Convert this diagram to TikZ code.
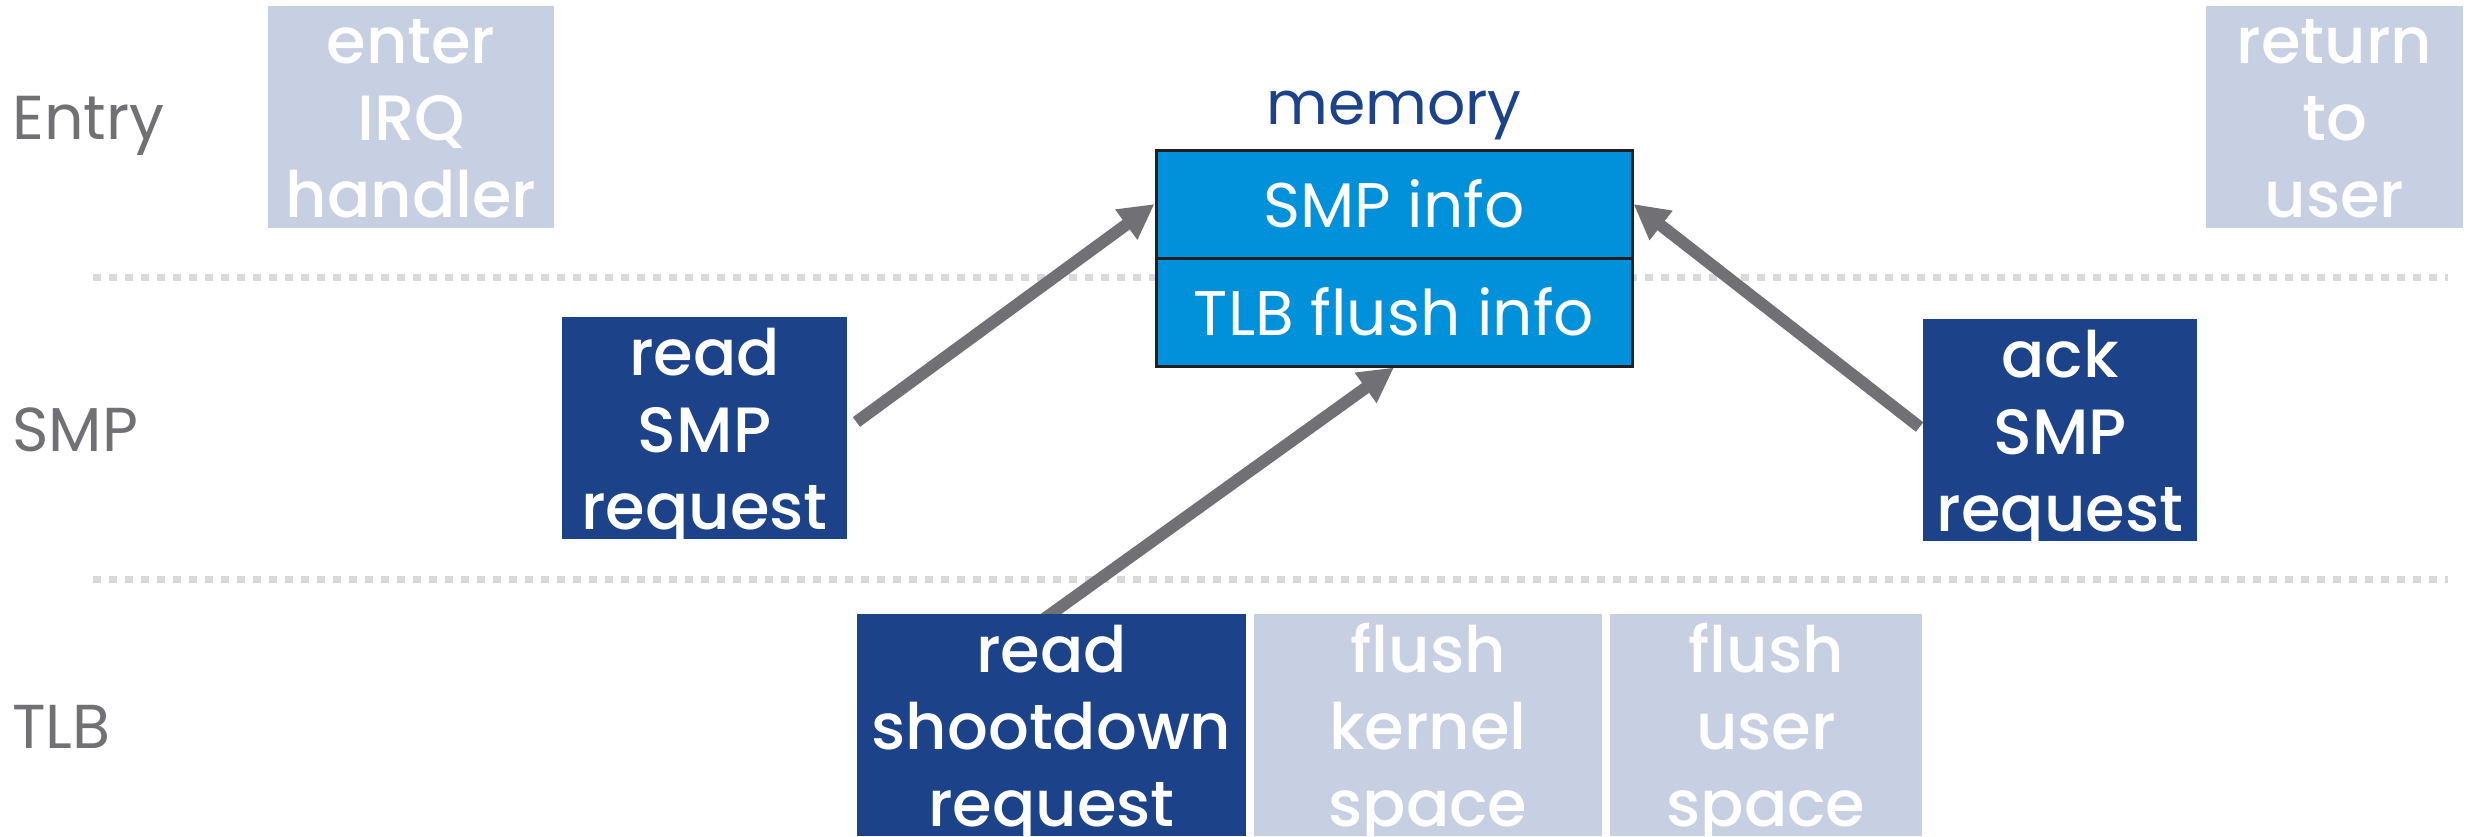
\documentclass[tikz,border=0pt]{standalone}
\usepackage{fontspec}
\setmainfont{Poppins}
\newfontfamily\boxfont{Poppins Medium}
\usetikzlibrary{arrows.meta,calc}
\definecolor{paleblue}{HTML}{C7D0E2}
\definecolor{navy}{HTML}{1C428A}
\definecolor{memblue}{HTML}{0091DA}
\definecolor{slate}{HTML}{717074}
\definecolor{dotgray}{HTML}{D9D9D9}
\definecolor{edge}{HTML}{231F20}
\pgfdeclarelayer{back}
\pgfsetlayers{back,main}

\begin{document}
\begin{tikzpicture}[x=0.5pt,y=-0.5pt,
  stepbox/.style={inner sep=0pt, align=center, text=white,
    text height=106pt, text depth=5pt,
    font=\boxfont\fontsize{32pt}{38.5pt}\selectfont},
  idle/.style={stepbox, fill=paleblue},
  active/.style={stepbox, fill=navy},
  cell/.style={draw=edge, line width=1.5pt, fill=memblue, text=white,
    inner sep=0pt, minimum width=238pt, text height=38.5pt, text depth=15.5pt,
    font=\fontsize{31.5pt}{37pt}\selectfont},
  lane/.style={text=slate, anchor=base west, inner sep=0pt,
    font=\fontsize{31pt}{37pt}\selectfont},
  divider/.style={dotgray, line width=3.5pt, dash pattern=on 3.75pt off 4.25pt},
  flow/.style={slate, line width=6pt,
    -{Triangle[length=17.5pt,width=17.5pt]}}]

\useasboundingbox (0,0) rectangle (2468,836);

% lane labels
\node[lane] (lentry) at (12,139) {Entry};
\node[lane] (lsmp)   at (12,451) {SMP};
\node[lane] (ltlb)   at (12,748) {TLB};

% entry lane
\node[idle, minimum width=143pt]   (enter) at (411,116.5)  {enter\\IRQ\\handler};
\node[idle, minimum width=128.5pt] (ret)   at (2334.5,116.5) {return\\to\\user};

% shared memory
\node[text=navy, anchor=base, inner sep=0pt,
      font=\fontsize{30pt}{36pt}\selectfont] (memlabel) at (1394,124) {memory};
\node[cell] (smp) at (1394,204) {SMP info};
\node[cell] (tlb) at (1394,312) {TLB flush info};

% SMP lane
\node[active, minimum width=142.5pt] (rsmp) at (704.5,428) {read\\SMP\\request};
\node[active, minimum width=137pt]   (ack)  at (2060,430)  {ack\\SMP\\request};

% TLB lane
\node[active, minimum width=194.5pt] (rsd) at (1051.5,725) {read\\shootdown\\request};
\node[idle,   minimum width=174pt]   (fk)  at (1428,725)   {flush\\kernel\\space};
\node[idle,   minimum width=156pt]   (fu)  at (1766,725)   {flush\\user\\space};

\begin{pgfonlayer}{back}
  % lane separators
  \coordinate (d1a) at (93,277);  \coordinate (d1b) at (2448,277);
  \coordinate (d2a) at (93,579);  \coordinate (d2b) at (2448,579);
  \draw[divider] (d1a) -- (d1b);
  \draw[divider] (d2a) -- (d2b);
  % accesses to memory
  \draw[flow] ($(rsmp.east)+(9,-6)$) -- (smp.west);
  \draw[flow] ($(tlb.south)!1.04!(rsd.north)$) -- (tlb.south);
  \draw[flow] ($(ack.west)+(-3,-3)$) -- (smp.east);
\end{pgfonlayer}
\end{tikzpicture}
\end{document}
